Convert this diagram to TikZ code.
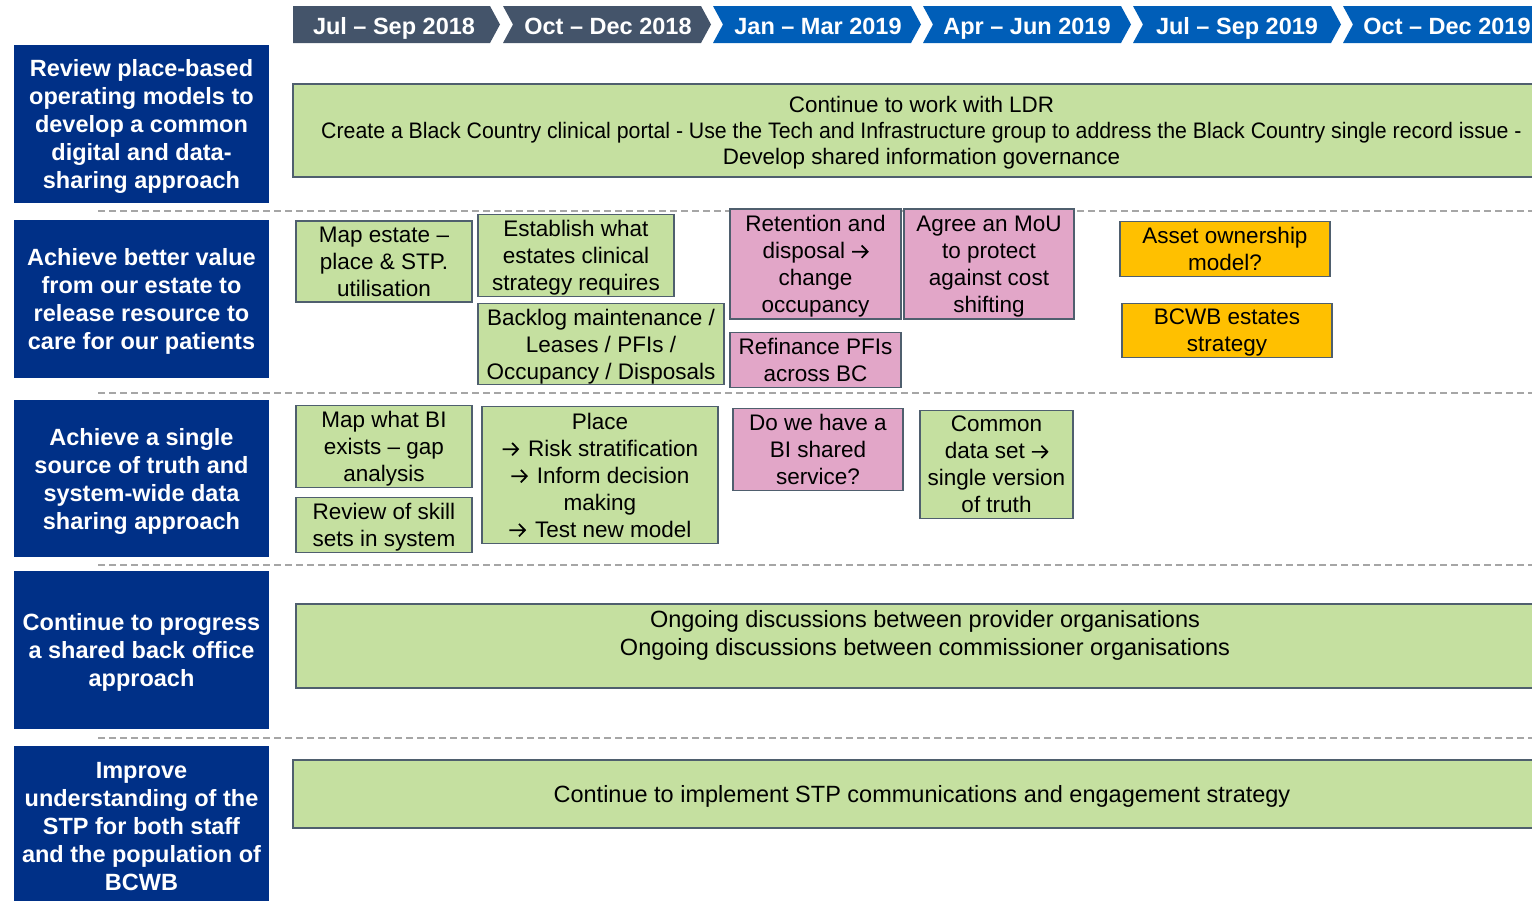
\documentclass[tikz,border=0pt]{standalone}
\usepackage{fontspec}
\setmainfont{Liberation Sans}
\newcommand{\rarr}{\tikz[baseline=0pt,x=1pt,y=1pt]{\draw[line width=1.7pt,line join=miter] (0,7)--(15.5,7) (9.5,0.8)--(15.5,7)--(9.5,13.2);}}
\newcommand{\rarrsp}{\rarr\hspace{3pt}}
\definecolor{hgray}{HTML}{44546A}
\definecolor{hblue}{HTML}{005EB8}
\definecolor{lblue}{HTML}{003087}
\definecolor{gfill}{HTML}{C5E0A0}
\definecolor{pfill}{HTML}{E2A6C8}
\definecolor{ofill}{HTML}{FFC000}
\definecolor{bord}{HTML}{4F5F6E}
\definecolor{dashc}{HTML}{A6A6A6}
\begin{document}
\begin{tikzpicture}[x=1pt,y=-1pt,
  hdtext/.style={text=white,font=\fontsize{23.5}{27}\selectfont\bfseries,inner sep=0,text depth=0pt},
  lbox/.style={fill=lblue,text=white,minimum width=255pt,inner sep=0,align=center,text depth=-3pt,
    font=\fontsize{23.5}{28}\selectfont\bfseries},
  cbox/.style={draw=bord,line width=1.2pt,inner sep=0,align=center,text=black,text depth=-3pt,
    font=\fontsize{22.5}{27}\selectfont},
  gbox/.style={cbox,fill=gfill},
  pbox/.style={cbox,fill=pfill},
  obox/.style={cbox,fill=ofill},
  sep/.style={draw=dashc,line width=1.5pt,dash pattern=on 7pt off 4pt}]
\useasboundingbox (0,0) rectangle (1532,900);
\begin{scope}
\clip (0,0) rectangle (1532,900);
% header chevrons
\fill[hgray] (293,6) -- (490,6) -- (500,24.5) -- (490,43) -- (293,43) -- cycle;
\foreach \x/\c in {503/hgray,713/hblue,923/hblue,1133/hblue,1343/hblue}{
  \fill[\c] (\x,6) -- (\x+198,6) -- (\x+208,24.5) -- (\x+198,43) -- (\x,43) -- (\x+10,24.5) -- cycle;}
\node[hdtext] (h1) at (394,26) {Jul – Sep 2018};
\node[hdtext] (h2) at (608,26) {Oct – Dec 2018};
\node[hdtext] (h3) at (818,26) {Jan – Mar 2019};
\node[hdtext] (h4) at (1027,26) {Apr – Jun 2019};
\node[hdtext] (h5) at (1237,26) {Jul – Sep 2019};
\node[hdtext] (h6) at (1447,26) {Oct – Dec 2019};
% separators
\foreach \y in {211,393,565,738}{\draw[sep] (98,\y) -- (1540,\y);}
% left boxes
\node[lbox,minimum height=158pt] (l1) at (141.5,124) {Review place-based\\operating models to\\develop a common\\digital and data-\\sharing approach};
\node[lbox,minimum height=158pt] (l2) at (141.5,299) {Achieve better value\\from our estate to\\release resource to\\care for our patients};
\node[lbox,minimum height=157pt] (l3) at (141.5,478.5) {Achieve a single\\source of truth and\\system-wide data\\sharing approach};
\node[lbox,minimum height=158pt] (l4) at (141.5,650) {Continue to progress\\a shared back office\\approach};
\node[lbox,minimum height=161pt] (l5) at (141.5,826.5) {Improve\\understanding of the\\STP for both staff\\and the population of\\BCWB};
% row 1
\node[gbox,minimum width=1257pt,minimum height=93pt,text depth=-1.5pt,font=\fontsize{22.4}{26}\selectfont] (g1) at (921.5,130.5)
  {Continue to work with LDR\\\scalebox{0.95}[1]{Create a Black Country clinical portal - Use the Tech and Infrastructure group to address the Black Country single record issue -}\\Develop shared information governance};
% row 2
\node[gbox,minimum width=176pt,minimum height=81pt] (map1) at (384,261.5) {Map estate –\\place \& STP.\\utilisation};
\node[gbox,minimum width=196pt,minimum height=82pt] (estab) at (576,255.5) {Establish what\\estates clinical\\strategy requires};
\node[gbox,minimum width=246pt,minimum height=81pt] (backlog) at (601,344) {Backlog maintenance /\\Leases / PFIs /\\Occupancy / Disposals};
\node[pbox,minimum width=171pt,minimum height=110pt] (reten) at (815.5,264) {Retention and\\disposal \rarr\\change\\occupancy};
\node[pbox,minimum width=171pt,minimum height=55pt] (refin) at (815.5,360) {Refinance PFIs\\across BC};
\node[pbox,minimum width=170pt,minimum height=110pt] (mou) at (989,264) {Agree an MoU\\to protect\\against cost\\shifting};
\node[obox,minimum width=210pt,minimum height=55pt] (asset) at (1225,249) {Asset ownership\\model?};
\node[obox,minimum width=210pt,minimum height=54pt] (bcwb) at (1227,330.5) {BCWB estates\\strategy};
% row 3
\node[gbox,minimum width=176pt,minimum height=82pt] (mapbi) at (384,446.5) {Map what BI\\exists – gap\\analysis};
\node[gbox,minimum width=176pt,minimum height=55pt] (skill) at (384,525) {Review of skill\\sets in system};
\node[gbox,minimum width=236pt,minimum height=137pt] (place) at (600,475) {Place\\\rarrsp{} Risk stratification\\\rarrsp{} Inform decision\\making\\\rarrsp{} Test new model};
\node[pbox,minimum width=170pt,minimum height=82pt] (biss) at (818,449.5) {Do we have a\\BI shared\\service?};
\node[gbox,minimum width=153pt,minimum height=108pt] (common) at (996.5,464.5) {Common\\data set \rarr\\single version\\of truth};
% row 4
\node[gbox,minimum width=1258pt,minimum height=84pt] (g4) at (925,646) {};
\node[inner sep=0,align=center,text depth=-1.5pt,font=\fontsize{23.5}{28}\selectfont] (g4t) at (925,633)
  {Ongoing discussions between provider organisations\\Ongoing discussions between commissioner organisations};
% row 5
\node[gbox,minimum width=1258pt,minimum height=68pt,text depth=-1.5pt,font=\fontsize{23.5}{28}\selectfont] (g5) at (922,794)
  {Continue to implement STP communications and engagement strategy};
\end{scope}
\end{tikzpicture}
\end{document}
